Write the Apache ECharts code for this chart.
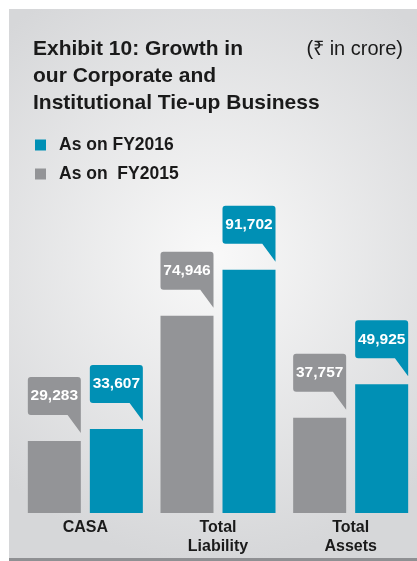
<!DOCTYPE html>
<html>
<head>
<meta charset="utf-8">
<script src="https://cdn.jsdelivr.net/npm/echarts@6/dist/echarts.min.js"></script>
<style>
  html, body { margin: 0; padding: 0; background: #fff; }
  #chart { width: 417px; height: 561px; }
</style>
</head>
<body>
<div id="chart"></div>
<script>
var categories = ['CASA', 'Total\nLiability', 'Total\nAssets'];
var fy2015 = [29283, 74946, 37757];
var fy2016 = [33607, 91702, 49925];
var seriesNames = ['As on  FY2015', 'As on FY2016'];

var font = "'Liberation Sans', Arial, sans-serif";

// callout bubble: box with a tail down to the bar's right corner
var bubble = 'path://M3,0 L49,0 Q52,0 52,3 L52,56 L39,38 L3,38 Q0,38 0,35 L0,3 Q0,0 3,0 Z';

function bubbles(values) {
    return {
        symbol: bubble,
        symbolSize: [53, 56],
        symbolOffset: [0, -36],
        label: {
            show: true,
            position: 'inside',
            offset: [0, -9],
            color: '#fff',
            fontFamily: font,
            fontWeight: 'bold',
            fontSize: 15.5,
            formatter: function (p) {
                return echarts.format.addCommas(p.value);
            }
        },
        data: values.map(function (v, i) {
            return { coord: [i, v], value: v };
        })
    };
}

var myChart = echarts.init(document.getElementById('chart'));

var option = {
    animation: false,
    graphic: {
        elements: [
            {
                type: 'rect',
                shape: { x: 9, y: 9, width: 408, height: 549 },
                style: {
                    fill: new echarts.graphic.RadialGradient(0.5, 0.45, 0.75, [
                        { offset: 0, color: '#f9f9f9' },
                        { offset: 1, color: '#d6d7d9' }
                    ])
                },
                z: -10
            },
            {
                type: 'rect',
                shape: { x: 9, y: 558, width: 408, height: 3 },
                style: { fill: '#8f9093' },
                z: -10
            }
        ]
    },
    title: [
        {
            text: 'Exhibit 10: Growth in\nour Corporate and\nInstitutional Tie-up Business',
            left: 33,
            top: 36,
            padding: 0,
            textStyle: {
                fontFamily: font,
                fontSize: 21,
                fontWeight: 'bold',
                lineHeight: 27,
                color: '#1a1a1a'
            }
        },
        {
            text: '(₹ in crore)',
            right: 14,
            top: 36,
            padding: 0,
            textStyle: {
                fontFamily: font,
                fontSize: 20,
                fontWeight: 'normal',
                lineHeight: 27,
                color: '#1a1a1a'
            }
        }
    ],
    legend: {
        data: [seriesNames[1], seriesNames[0]],
        orient: 'vertical',
        left: 35,
        top: 136,
        padding: 0,
        icon: 'rect',
        itemWidth: 11,
        itemHeight: 11,
        itemGap: 11,
        textStyle: {
            fontFamily: font,
            fontSize: 17.5,
            fontWeight: 'bold',
            lineHeight: 17,
            color: '#1a1a1a',
            padding: [0, 0, 0, 8]
        }
    },
    grid: {
        left: 19,
        right: -2,
        top: 247,
        bottom: 48
    },
    xAxis: {
        type: 'category',
        data: categories,
        axisLine: { show: false },
        axisTick: { show: false },
        axisLabel: {
            margin: 5,
            fontFamily: font,
            fontSize: 16,
            fontWeight: 'bold',
            lineHeight: 19,
            color: '#1a1a1a'
        }
    },
    yAxis: {
        type: 'value',
        min: 3000,
        max: 100000,
        show: false
    },
    series: [
        {
            name: seriesNames[0],
            type: 'bar',
            barWidth: 53,
            barGap: '17%',
            itemStyle: { color: '#939497' },
            markPoint: bubbles(fy2015),
            data: fy2015
        },
        {
            name: seriesNames[1],
            type: 'bar',
            barWidth: 53,
            barGap: '17%',
            itemStyle: { color: '#0090b5' },
            markPoint: bubbles(fy2016),
            data: fy2016
        }
    ]
};
myChart.setOption(option);
</script>
</body>
</html>
